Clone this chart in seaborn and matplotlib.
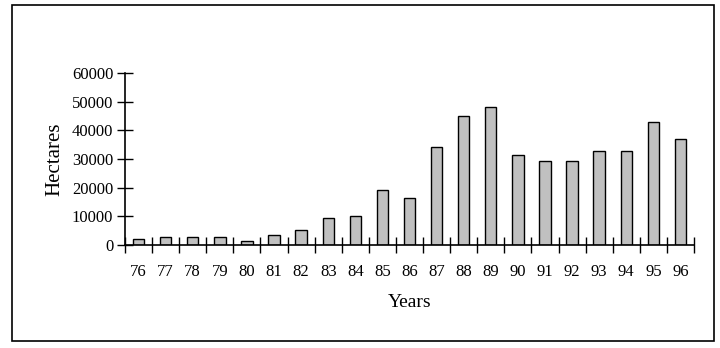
import matplotlib
matplotlib.use("Agg")
import matplotlib.pyplot as plt
import seaborn as sns
import pandas as pd
from matplotlib.patches import Rectangle

years = ["76", "77", "78", "79", "80", "81", "82", "83", "84", "85", "86",
         "87", "88", "89", "90", "91", "92", "93", "94", "95", "96"]
hectares = [2000, 2800, 2800, 2800, 1400, 3500, 5100, 9400, 10000, 19300, 16400,
            34300, 45100, 48000, 31500, 29400, 29400, 32900, 32900, 43000, 37100]
yticks = [0, 10000, 20000, 30000, 40000, 50000, 60000]

df = pd.DataFrame({"Years": years, "Hectares": hectares})

sns.set_style("white")
plt.rcParams['font.family'] = ['Liberation Serif', 'DejaVu Serif']
plt.rcParams['text.color'] = 'black'
plt.rcParams['axes.labelcolor'] = 'black'
plt.rcParams['xtick.color'] = 'black'
plt.rcParams['ytick.color'] = 'black'

W, H = 720, 348
fig = plt.figure(figsize=(7.2, 3.48), dpi=100)
ax = fig.add_axes([125 / W, (H - 245) / H, (694 - 125) / W, (245 - 73) / H])

sns.barplot(data=df, x="Years", y="Hectares", color="#c0c0c0", saturation=1,
            edgecolor="black", linewidth=1.0, width=0.42, ax=ax)

ax.set_xlim(-0.5, len(years) - 0.5)
ax.set_ylim(0, 60000)
ax.set_yticks(yticks)
ax.set_yticklabels([str(v) for v in yticks], fontsize=12)

# x ticks at category boundaries, labels centred under bars
ax.set_xticks([i - 0.5 for i in range(len(years) + 1)], minor=False)
ax.set_xticklabels([])
ax.set_xticks(range(len(years)), minor=True)
ax.set_xticklabels(years, minor=True, fontsize=12)
ax.tick_params(axis="x", which="minor", bottom=True, length=0, pad=14, labelcolor="black")
ax.tick_params(axis="x", which="major", bottom=True, direction="inout", length=11,
               width=1.0, color="black")
ax.tick_params(axis="y", left=True, direction="inout", length=11, width=1.0,
               color="black", pad=3, labelcolor="black")

for s in ["top", "right"]:
    ax.spines[s].set_visible(False)
for s in ["left", "bottom"]:
    ax.spines[s].set_color("black")
    ax.spines[s].set_linewidth(1.2)

ax.set_xlabel("Years", fontsize=14, labelpad=10, color="black")
ax.set_ylabel("Hectares", fontsize=15, labelpad=5, color="black")

fig.patches.append(Rectangle((11.5 / W, (H - 341) / H), (714 - 11.5) / W, (341 - 4.5) / H,
                             transform=fig.transFigure, fill=False,
                             edgecolor="black", linewidth=1.2))

fig.savefig("out.png", dpi=100)
